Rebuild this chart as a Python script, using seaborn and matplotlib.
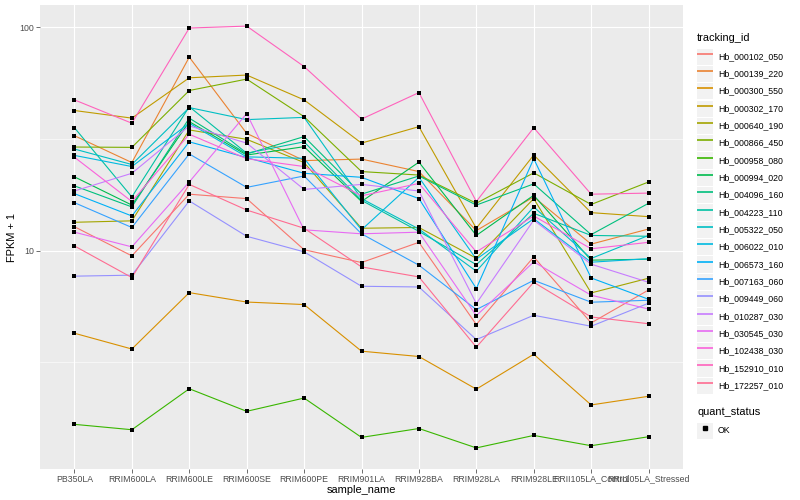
import pandas as pd
import matplotlib
matplotlib.use('Agg')
import matplotlib.pyplot as plt
import seaborn as sns
import numpy as np
from matplotlib.lines import Line2D
from matplotlib.patches import Rectangle
from matplotlib.legend_handler import HandlerLine2D

samples = ['PB350LA', 'RRIM600LA', 'RRIM600LE', 'RRIM600SE', 'RRIM600PE',
           'RRIM901LA', 'RRIM928BA', 'RRIM928LA', 'RRIM928LE',
           'RRII105LA_Control', 'RRII105LA_Stressed']

tracking_ids = ['Hb_000102_050', 'Hb_000139_220', 'Hb_000300_550', 'Hb_000302_170',
                'Hb_000640_190', 'Hb_000866_450', 'Hb_000958_080', 'Hb_000994_020',
                'Hb_004096_160', 'Hb_004223_110', 'Hb_005322_050', 'Hb_006022_010',
                'Hb_006573_160', 'Hb_007163_060', 'Hb_009449_060', 'Hb_010287_030',
                'Hb_030545_030', 'Hb_102438_030', 'Hb_152910_010', 'Hb_172257_010']

# FPKM + 1 per sample
hb_000102_050 = [12.8, 9.48, 17.9, 17.1, 10.1, 8.85, 10.9, 4.67, 9.38, 4.75, 6.67]
hb_000139_220 = [32.7, 24.8, 73.5, 33.5, 25.3, 25.7, 22.6, 12.3, 17.4, 10.7, 12.5]
hb_000300_550 = [4.27, 3.63, 6.49, 5.89, 5.74, 3.55, 3.36, 2.40, 3.44, 2.04, 2.23]
hb_000302_170 = [42.4, 39.2, 59.4, 61.1, 47.3, 30.3, 35.9, 12.6, 26.8, 14.8, 14.2]
hb_000640_190 = [13.4, 13.6, 34.7, 31.5, 24.8, 12.6, 12.7, 9.25, 17.1, 6.47, 7.53]
hb_000866_450 = [29.1, 29.0, 52.1, 58.6, 39.8, 22.6, 21.8, 16.3, 22.3, 16.1, 20.3]
hb_000958_080 = [1.67, 1.58, 2.41, 1.91, 2.19, 1.46, 1.60, 1.31, 1.49, 1.34, 1.47]
hb_000994_020 = [21.4, 16.0, 37.8, 26.8, 29.2, 16.6, 24.9, 11.7, 17.7, 9.07, 9.16]
hb_004096_160 = [19.5, 15.7, 39.2, 27.1, 32.4, 17.9, 21.6, 16.0, 19.9, 11.8, 16.3]
hb_004223_110 = [35.5, 17.4, 44.1, 27.3, 30.7, 16.8, 12.2, 8.66, 14.7, 11.7, 11.6]
hb_005322_050 = [28.5, 24.3, 43.7, 38.6, 39.5, 17.1, 12.5, 8.09, 15.7, 9.23, 11.7]
hb_006022_010 = [26.7, 23.8, 37.2, 26.3, 25.9, 12.4, 21.3, 9.16, 13.9, 8.88, 9.21]
hb_006573_160 = [18.0, 14.3, 30.7, 26.1, 22.2, 21.3, 17.1, 6.77, 25.8, 7.55, 6.06]
hb_007163_060 = [16.4, 12.7, 27.1, 19.2, 21.6, 11.9, 8.61, 5.45, 7.37, 5.88, 6.00]
hb_009449_060 = [7.69, 7.77, 16.7, 11.6, 9.88, 6.93, 6.88, 4.00, 5.14, 4.59, 5.82]
hb_010287_030 = [18.5, 22.2, 36.2, 30.3, 18.8, 19.8, 18.5, 5.80, 13.7, 8.70, 7.22]
hb_030545_030 = [12.1, 10.4, 20.3, 41.1, 12.4, 11.9, 12.1, 5.12, 8.91, 6.32, 5.48]
hb_102438_030 = [26.2, 16.6, 33.2, 25.8, 23.8, 17.6, 20.0, 9.88, 14.3, 10.2, 10.9]
hb_152910_010 = [47.3, 37.2, 99.2, 101.2, 66.7, 38.8, 51.0, 16.6, 35.5, 17.9, 18.1]
hb_172257_010 = [10.5, 7.58, 19.8, 15.2, 12.6, 8.46, 7.63, 3.70, 7.22, 5.05, 4.71]

series = [hb_000102_050, hb_000139_220, hb_000300_550, hb_000302_170, hb_000640_190,
          hb_000866_450, hb_000958_080, hb_000994_020, hb_004096_160, hb_004223_110,
          hb_005322_050, hb_006022_010, hb_006573_160, hb_007163_060, hb_009449_060,
          hb_010287_030, hb_030545_030, hb_102438_030, hb_152910_010, hb_172257_010]

# ggplot default hue palette for 20 levels
colors = ['#F8766D', '#EA8331', '#D89000', '#C09B00', '#A3A500', '#7CAE00', '#39B600',
          '#00BB4E', '#00BF7D', '#00C1A3', '#00BFC4', '#00BAE0', '#00B0F6', '#35A2FF',
          '#9590FF', '#C77CFF', '#E76BF3', '#FA62DB', '#FF62BC', '#FF6C91']

rows = []
for tid, vals in zip(tracking_ids, series):
    for s, v in zip(samples, vals):
        rows.append({'tracking_id': tid, 'sample_name': s, 'fpkm': v, 'quant_status': 'OK'})
df = pd.DataFrame(rows)

plt.rcParams['font.family'] = ['Liberation Sans', 'DejaVu Sans']

fig = plt.figure(figsize=(8, 5), dpi=100)
ax = fig.add_axes([40 / 800, 31 / 500, 643 / 800, 464 / 500])
ax.set_facecolor('#EBEBEB')

sns.lineplot(data=df, x='sample_name', y='fpkm', hue='tracking_id',
             hue_order=tracking_ids, palette=colors, sort=False,
             linewidth=0.8, legend=False, ax=ax)
sns.scatterplot(data=df, x='sample_name', y='fpkm', color='black', marker='s',
                s=5, linewidth=0, legend=False, ax=ax, zorder=5)

ax.set_yscale('log')
lo = np.log10(df['fpkm'].min())
hi = np.log10(df['fpkm'].max())
pad = (hi - lo) * 0.05
ax.set_ylim(10 ** (lo - pad), 10 ** (hi + pad))
ax.set_xlim(-0.6, len(samples) - 0.4)

ax.set_yticks([10, 100])
ax.set_yticklabels(['10', '100'])
ax.set_yticks([10 ** 0.5, 10 ** 1.5], minor=True)
ax.set_yticklabels([], minor=True)
ax.tick_params(axis='y', which='minor', length=0)
ax.tick_params(axis='both', which='major', length=2.6, width=0.5, color='#333333',
               labelsize=6.3, labelcolor='#4D4D4D', pad=1.5)

ax.grid(which='major', color='white', linewidth=0.8)
ax.grid(which='minor', axis='y', color='white', linewidth=0.4)
ax.set_axisbelow(True)
for sp in ax.spines.values():
    sp.set_visible(False)

ax.set_xlabel('sample_name', fontsize=7.9, labelpad=1)
ax.set_ylabel('FPKM + 1', fontsize=7.9, labelpad=2)


class KeyHandler(HandlerLine2D):
    def create_artists(self, legend, orig_handle, xdescent, ydescent,
                       width, height, fontsize, trans):
        bg = Rectangle((-xdescent, -ydescent - 0.5), width, height + 0.5,
                       facecolor='#F2F2F2', edgecolor='none', transform=trans)
        arts = super().create_artists(legend, orig_handle, xdescent, ydescent,
                                      width, height, fontsize, trans)
        return [bg] + arts


legend_kw = dict(loc='upper left', frameon=False, alignment='left', fontsize=6.3,
                 title_fontsize=7.9, handlelength=1.83, handleheight=2.36,
                 labelspacing=0.2, handletextpad=0.57, borderpad=0, borderaxespad=0,
                 handler_map={Line2D: KeyHandler()})

handles = [Line2D([], [], color=c, lw=1.2, solid_capstyle='butt') for c in colors]
leg1 = fig.legend(handles, tracking_ids, bbox_to_anchor=(697 / 800, 1 - 33 / 500),
                  title='tracking_id', **legend_kw)
leg1._legend_box.sep = 4.0

ok = Line2D([], [], color='black', marker='s', ls='none', ms=2.2)
leg2 = fig.legend([ok], ['OK'], bbox_to_anchor=(697 / 800, 1 - 407 / 500),
                  title='quant_status', **legend_kw)
leg2._legend_box.sep = 4.0

fig.savefig('out.png', dpi=100)
